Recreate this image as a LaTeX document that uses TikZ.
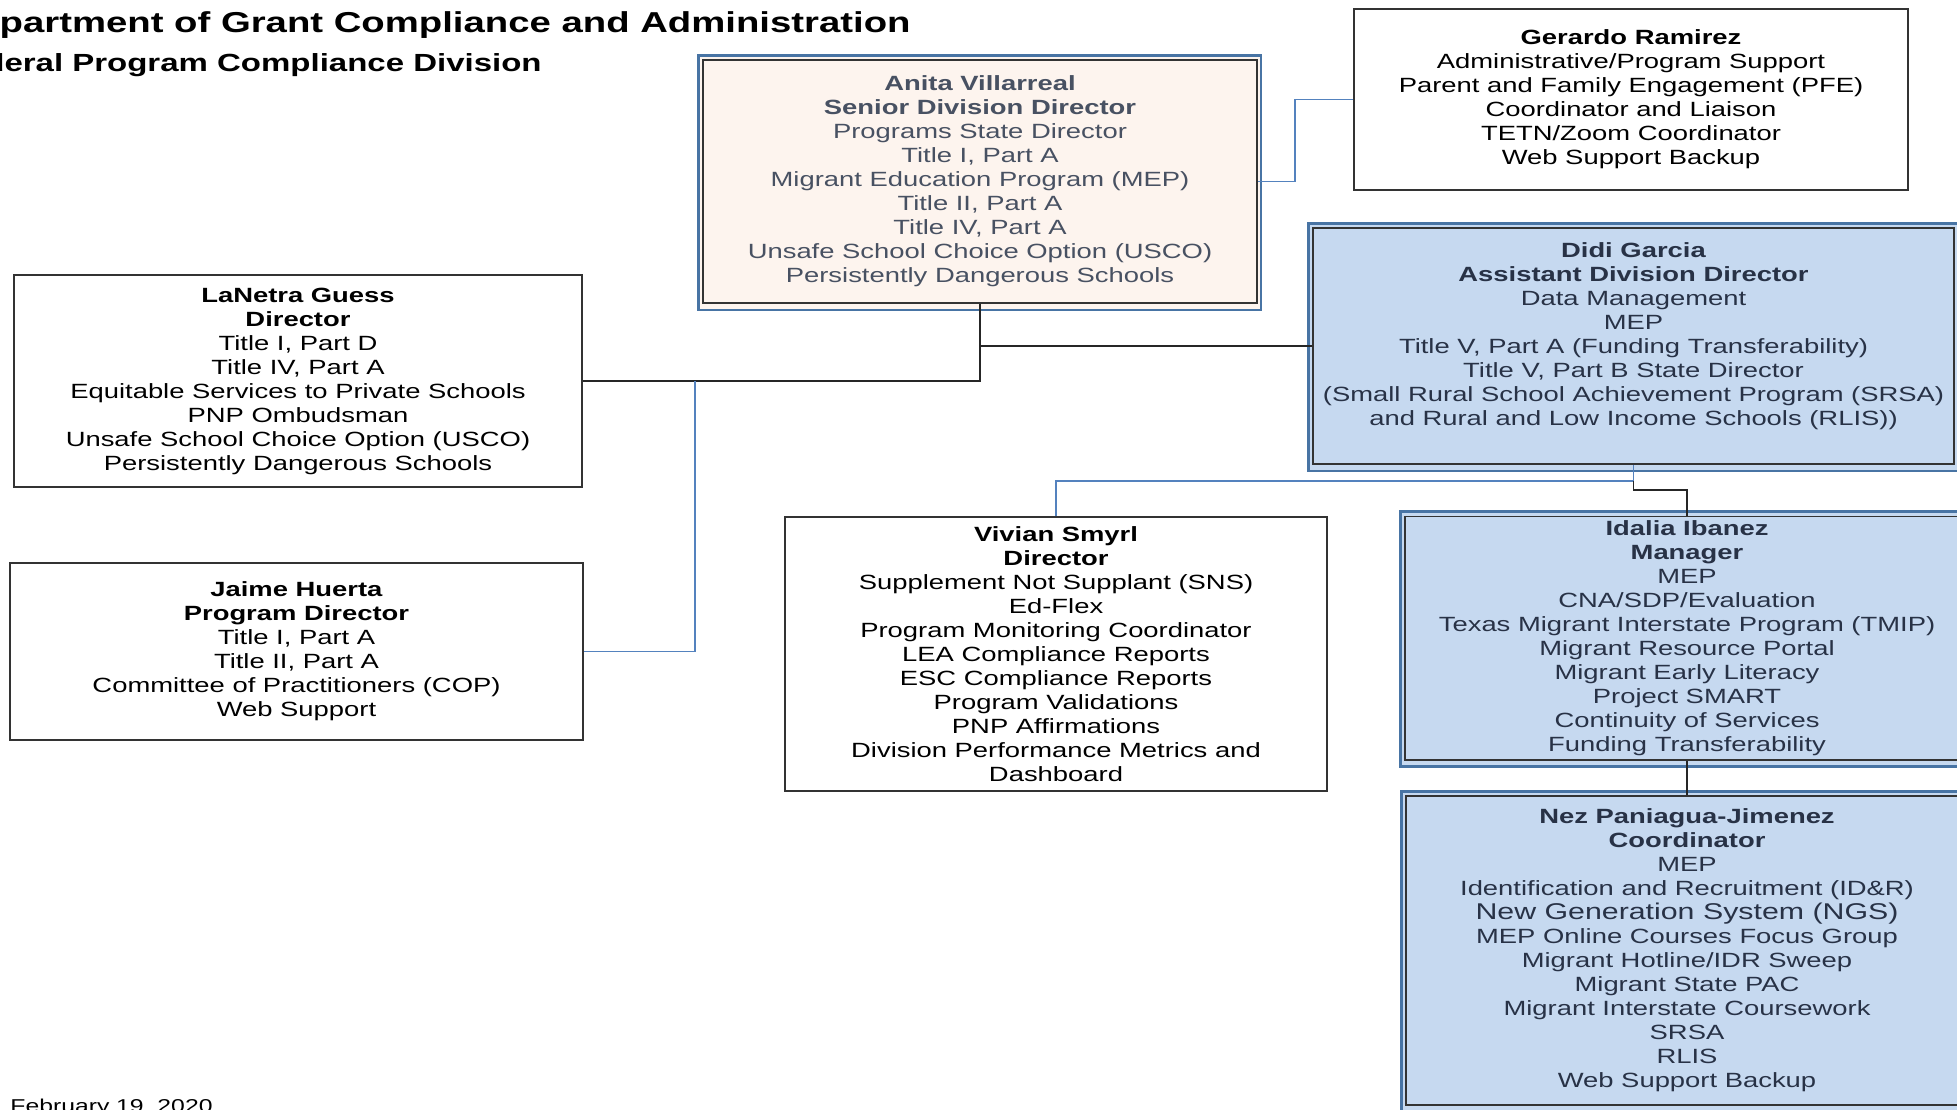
\documentclass[tikz,border=0pt]{standalone}
\usepackage{fontspec}
\setmainfont{Liberation Sans}[FakeStretch=1.33]
\usetikzlibrary{backgrounds}
\definecolor{paleblue}{RGB}{198,217,240}
\definecolor{palepeach}{RGB}{253,244,238}
\definecolor{frameblue}{RGB}{72,116,164}
\definecolor{linkblue}{RGB}{84,130,190}
\definecolor{inkblue}{RGB}{40,50,70}
\tikzset{
  orgbox/.style   ={draw=black!80, line width=0.9pt, align=center, inner sep=2pt,
                    font=\fontsize{10.3}{12}\selectfont},
  bluebox/.style  ={orgbox, fill=paleblue, text=inkblue},
  peachbox/.style ={orgbox, fill=palepeach, text=inkblue!85},
  outline/.style  ={draw=frameblue, line width=1.4pt},
  link/.style     ={black!85, line width=0.9pt},
  bluelink/.style ={linkblue, line width=0.9pt},
  heading/.style  ={anchor=base east, inner sep=0pt}
}
\begin{document}
\begin{tikzpicture}[x=0.5pt, y=-0.5pt]
\useasboundingbox (0,0) rectangle (1957,1109);
\clip (0,0) rectangle (1957,1109);

% titles, cut off by the page edge
\node[heading, font=\bfseries\fontsize{14.4}{16}\selectfont] (dept) at (911,32)
  {Department of Grant Compliance and Administration};
\node[heading, font=\bfseries\fontsize{12.4}{14}\selectfont] (div) at (542,71)
  {Federal Program Compliance Division};
\node[anchor=base west, inner sep=0pt, font=\fontsize{9.3}{11}\selectfont] (date) at (10,1112)
  {February 19, 2020};

% top row
\node[peachbox, minimum width=277pt, minimum height=121.5pt] (anita) at (980,181.5)
  {\textbf{Anita Villarreal}\\ \textbf{Senior Division Director}\\ Programs State Director\\
   Title I, Part A\\ Migrant Education Program (MEP)\\ Title II, Part A\\ Title IV, Part A\\
   Unsafe School Choice Option (USCO)\\ Persistently Dangerous Schools};
\node[orgbox, minimum width=277pt, minimum height=90.5pt] (gerardo) at (1631,99.5)
  {\textbf{Gerardo Ramirez}\\ Administrative/Program Support\\ Parent and Family Engagement (PFE)\\
   Coordinator and Liaison\\ TETN/Zoom Coordinator\\ Web Support Backup};
\node[bluebox, minimum width=320.5pt, minimum height=118pt] (didi) at (1633.5,346)
  {\textbf{Didi Garcia}\\ \textbf{Assistant Division Director}\\ Data Management\\ MEP\\
   Title V, Part A (Funding Transferability)\\ Title V, Part B State Director\\
   (Small Rural School Achievement Program (SRSA)\\ and Rural and Low Income Schools (RLIS))\\ \mbox{}};

% left column
\node[orgbox, minimum width=284pt, minimum height=106pt] (lanetra) at (298,381)
  {\textbf{LaNetra Guess}\\ \textbf{Director}\\ Title I, Part D\\ Title IV, Part A\\
   Equitable Services to Private Schools\\ PNP Ombudsman\\ Unsafe School Choice Option (USCO)\\
   Persistently Dangerous Schools};
\node[orgbox, minimum width=286.5pt, minimum height=88.5pt] (jaime) at (296.5,651.5)
  {\textbf{Jaime Huerta}\\ \textbf{Program Director}\\ Title I, Part A\\ Title II, Part A\\
   Committee of Practitioners (COP)\\ Web Support};

% under Didi
\node[orgbox, minimum width=271pt, minimum height=137pt] (vivian) at (1056,654)
  {\textbf{Vivian Smyrl}\\ \textbf{Director}\\ Supplement Not Supplant (SNS)\\ Ed-Flex\\
   Program Monitoring Coordinator\\ LEA Compliance Reports\\ ESC Compliance Reports\\
   Program Validations\\ PNP Affirmations\\ Division Performance Metrics and\\ Dashboard};
\node[bluebox, minimum width=282pt, minimum height=120pt] (idalia) at (1687,638)
  {\textbf{Idalia Ibanez}\\ \textbf{Manager}\\ MEP\\ CNA/SDP/Evaluation\\
   Texas Migrant Interstate Program (TMIP)\\ Migrant Resource Portal\\ Migrant Early Literacy\\
   Project SMART\\ Continuity of Services\\ Funding Transferability};
\node[bluebox, minimum width=281pt, minimum height=154.5pt] (nez) at (1687,950.5)
  {\textbf{Nez Paniagua-Jimenez}\\ \textbf{Coordinator}\\ MEP\\ Identification and Recruitment (ID\&R)\\
   {\fontsize{11.4}{13}\selectfont New Generation System (NGS)}\\ MEP Online Courses Focus Group\\
   Migrant Hotline/IDR Sweep\\ Migrant State PAC\\ Migrant Interstate Coursework\\
   SRSA\\ RLIS\\ Web Support Backup};

% blue outer frames of the shaded boxes
\begin{pgfonlayer}{background}
  \foreach \n/\c in {anita/palepeach, didi/paleblue, idalia/paleblue, nez/paleblue}
    \draw[outline, fill=\c] ([shift={(-4,-4)}]\n.north west) rectangle ([shift={(3,6)}]\n.south east);
\end{pgfonlayer}

\coordinate (tap)  at ([xshift=56pt]lanetra.east);
\coordinate (fork) at ([yshift=-8pt]didi.south);
\draw[link] (anita.south) |- (lanetra.east);
\draw[link] (anita.south |- didi.west) -- (didi.west);
\draw[bluelink] (tap) |- (jaime.east);
\draw[bluelink] (anita.east) -- ++(37,0) |- (gerardo.west);
\draw[bluelink] (didi.south) -- (fork) -| (vivian.north);
\draw[link] (fork) -- ++(0,9) -| (idalia.north);
\draw[link] (idalia.south) -- (nez.north);
\end{tikzpicture}
\end{document}
